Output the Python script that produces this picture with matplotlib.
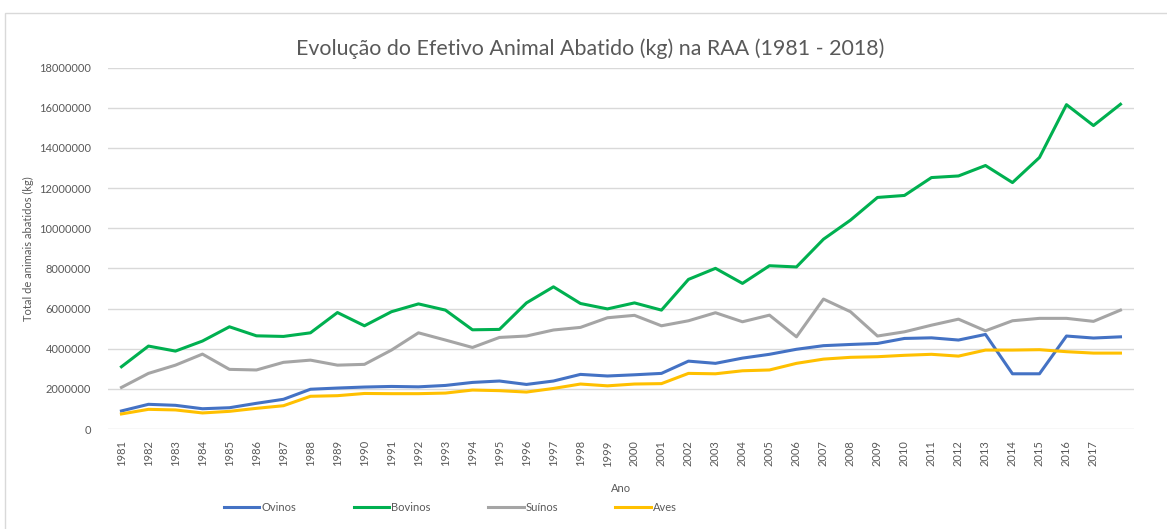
import matplotlib.pyplot as plt
from matplotlib.patches import Rectangle
from matplotlib.ticker import MultipleLocator

plt.rcParams['font.family'] = ['Lato', 'DejaVu Sans']

# anos
anos = list(range(1981, 2019))

# valores (milhoes de kg)
ovinos = [0.90, 1.23, 1.18, 1.01, 1.06, 1.28, 1.48, 1.98, 2.04, 2.09,
          2.12, 2.10, 2.17, 2.32, 2.39, 2.22, 2.39, 2.72, 2.64, 2.70,
          2.77, 3.38, 3.27, 3.53, 3.72, 3.97, 4.15, 4.21, 4.26, 4.51,
          4.54, 4.43, 4.71, 2.75, 2.75, 4.63, 4.53, 4.59]
bovinos = [3.10, 4.13, 3.88, 4.38, 5.09, 4.64, 4.61, 4.79, 5.80, 5.14,
           5.84, 6.23, 5.92, 4.94, 4.96, 6.28, 7.08, 6.25, 5.98, 6.28,
           5.92, 7.45, 8.00, 7.25, 8.13, 8.07, 9.45, 10.40, 11.53, 11.63,
           12.52, 12.60, 13.12, 12.27, 13.52, 16.15, 15.11, 16.17]
suinos = [2.07, 2.77, 3.18, 3.73, 2.97, 2.94, 3.32, 3.43, 3.18, 3.22,
          3.93, 4.79, 4.43, 4.06, 4.56, 4.63, 4.93, 5.06, 5.54, 5.66,
          5.14, 5.39, 5.79, 5.34, 5.67, 4.59, 6.47, 5.84, 4.63, 4.84,
          5.17, 5.47, 4.89, 5.39, 5.51, 5.51, 5.36, 5.92]
aves = [0.75, 0.98, 0.95, 0.80, 0.88, 1.03, 1.16, 1.63, 1.66, 1.77,
        1.76, 1.76, 1.79, 1.94, 1.91, 1.84, 2.02, 2.24, 2.15, 2.24,
        2.26, 2.77, 2.75, 2.90, 2.94, 3.27, 3.48, 3.57, 3.60, 3.67,
        3.72, 3.63, 3.93, 3.93, 3.95, 3.85, 3.78, 3.78]

series = [('Ovinos', ovinos, '#4472C4'),
          ('Bovinos', bovinos, '#00B050'),
          ('Suínos', suinos, '#A5A5A5'),
          ('Aves', aves, '#FFC000')]

cinza = '#595959'

fig = plt.figure(figsize=(11.67, 5.29), dpi=100)
ax = fig.add_axes([0.0925, 0.189, 0.8792, 0.6834])

x = list(range(len(anos)))
for nome, vals, cor in series:
    ax.plot(x, [v * 1e6 for v in vals], color=cor, lw=2.2, label=nome,
            solid_joinstyle='round')

ax.set_xlim(-0.5, len(anos) - 0.5)
ax.set_ylim(0, 18000000)
ax.yaxis.set_major_locator(MultipleLocator(2000000))
ax.yaxis.set_major_formatter(plt.FuncFormatter(lambda v, p: '%d' % v))
ax.set_xticks(x[:-1])
ax.set_xticklabels([str(a) for a in anos[:-1]], rotation=90)

ax.grid(axis='y', color='#D9D9D9', lw=1)
ax.set_axisbelow(True)
for s in ax.spines.values():
    s.set_visible(False)
ax.tick_params(length=0, labelsize=8, colors=cinza, pad=8)
ax.tick_params(axis='y', pad=12)

ax.set_xlabel('Ano', fontsize=8, color=cinza, labelpad=12)
ax.set_ylabel('Total de animais abatidos (kg)', fontsize=8, color=cinza, labelpad=4)
fig.text(0.506, 0.908, 'Evolução do Efetivo Animal Abatido (kg) na RAA (1981 - 2018)',
         ha='center', va='center', fontsize=15.4, color=cinza)

fig.legend(loc='center', bbox_to_anchor=(0.386, 0.04), ncol=4, frameon=False,
           fontsize=8, labelcolor=cinza, handlelength=3.2, handletextpad=0.2,
           columnspacing=5.15)

fig.patches.append(Rectangle((5 / 1167, -0.1), 1.2, 1 - 13 / 529 + 0.1,
                             transform=fig.transFigure, fill=False,
                             edgecolor='#D9D9D9', lw=1))

fig.savefig('out.png', dpi=100)
